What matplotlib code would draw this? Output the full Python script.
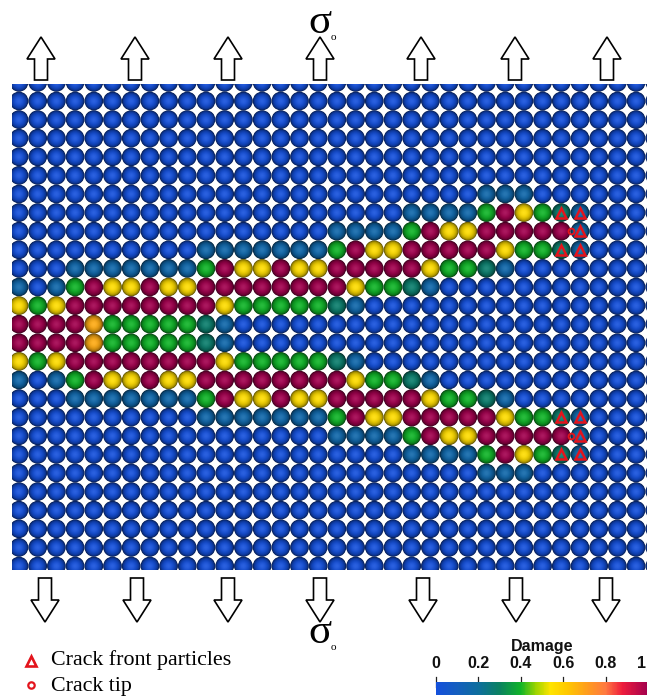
import numpy as np
import matplotlib
matplotlib.use("Agg")
import matplotlib.pyplot as plt
from matplotlib.colors import LinearSegmentedColormap, Normalize
from matplotlib.patches import Polygon
from matplotlib.cm import ScalarMappable

# ---------------------------------------------------------------------------
# Particle damage field (row 0 = top).  Each character is one particle:
#   '.' intact, 't' slight, 'q' low, 'g' moderate, 'y' high, 'o' higher, 'c' broken
# ---------------------------------------------------------------------------
damage_rows = [
    "...................................",
    "...................................",
    "...................................",
    "...................................",
    "...................................",
    "...................................",
    ".........................ttt.......",
    ".....................ttttgcygqt....",
    ".................ttttgcyyccccct....",
    "..........tttttttgcyycccccyggqt....",
    "...tttttttgcyycyycccccyggqt........",
    "t.tgcyycyyccccccccyggqt............",
    "ygyccccccccygggggqt................",
    "ccccogggggqt.......................",
    "ccccogggggqt.......................",
    "ygyccccccccygggggqt................",
    "t.tgcyycyyccccccccyggqt............",
    "...tttttttgcyycyycccccyggqt........",
    "..........tttttttgcyycccccyggqt....",
    ".................ttttgcyyccccct....",
    ".....................ttttgcygqt....",
    ".........................ttt.......",
    "...................................",
    "...................................",
    "...................................",
    "...................................",
    "...................................",
]
damage_levels = {".": 0.0, "t": 0.16, "q": 0.28, "g": 0.40,
                 "y": 0.56, "o": 0.68, "c": 1.0}

# Crack front particles and crack tips (column, row)
crack_front_cols = [29, 30, 30, 29, 30, 29, 30, 30, 29, 30]
crack_front_rows = [7, 7, 8, 9, 9, 18, 18, 19, 20, 20]
crack_tip_cols = [29.5, 29.5]
crack_tip_rows = [8, 19]

colorbar_ticks = [0.0, 0.2, 0.4, 0.6, 0.8, 1.0]
colorbar_tick_labels = ["0", "0.2", "0.4", "0.6", "0.8", "1"]

legend_labels = ["Crack front particles", "Crack tip"]
stress_label = "σ"
stress_sub = "o"
colorbar_title = "Damage"

# ---------------------------------------------------------------------------
# Damage colour scale
# ---------------------------------------------------------------------------
cmap_nodes = [
    (0.00, "#1450dc"),
    (0.10, "#145fbe"),
    (0.20, "#0d6e9c"),
    (0.30, "#0b8260"),
    (0.40, "#10b428"),
    (0.47, "#9cd400"),
    (0.54, "#ffe400"),
    (0.62, "#ffc800"),
    (0.72, "#ff9a20"),
    (0.80, "#ff7a40"),
    (0.88, "#ee1c3c"),
    (1.00, "#a2004e"),
]
damage_cmap = LinearSegmentedColormap.from_list("damage", cmap_nodes)
norm = Normalize(0.0, 1.0)

W, H = 647, 700
fig = plt.figure(figsize=(W / 100, H / 100), dpi=100)

# ---------------------------------------------------------------------------
# Particle panel
# ---------------------------------------------------------------------------
px_left, px_right, px_top, px_bot = 12, 647, 84, 570
col0_px, dx_px = 19.0, 18.7
row0_px, dy_px = 82.4, 18.6

ax = fig.add_axes([px_left / W, (H - px_bot) / H,
                   (px_right - px_left) / W, (px_bot - px_top) / H])
ax.set_xlim((px_left - col0_px) / dx_px, (px_right - col0_px) / dx_px)
ax.set_ylim((px_bot - row0_px) / dy_px, (px_top - row0_px) / dy_px)
ax.set_facecolor("white")
ax.axis("off")

n_rows = len(damage_rows)
n_cols = len(damage_rows[0])
cols, rows = np.meshgrid(np.arange(n_cols), np.arange(n_rows))
dmg = np.array([[damage_levels[ch] for ch in row] for row in damage_rows])
base = damage_cmap(norm(dmg.ravel()))[:, :3]

# shaded spheres: concentric discs getting brighter towards the centre
diam_pt = 18.65 * 72 / 100
n_layers = 18
for k in range(n_layers):
    r = 1.0 - k / n_layers
    r_mid = max(r - 0.5 / n_layers, 0.0)
    z = np.sqrt(max(1.0 - r_mid ** 2, 0.0))
    bright = 0.04 + 0.96 * z ** 0.75
    spec = 0.10 * z ** 10
    col = np.clip(base * bright + (1 - base * bright) * spec, 0, 1)
    ax.scatter(cols.ravel(), rows.ravel(), s=(diam_pt * r) ** 2, c=col,
               marker="o", linewidths=0, zorder=2 + k * 0.01)

red = "#e3141c"
ax.plot(crack_front_cols, crack_front_rows, ls="none", marker="^", ms=7.6,
        mfc="none", mec=red, mew=1.8, zorder=5)
ax.plot(crack_tip_cols, crack_tip_rows, ls="none", marker="o", ms=4.2,
        mfc="none", mec=red, mew=1.4, zorder=5)

# ---------------------------------------------------------------------------
# Overlay: loading arrows, stress labels, legend
# ---------------------------------------------------------------------------
ov = fig.add_axes([0, 0, 1, 1])
ov.set_xlim(0, W)
ov.set_ylim(H, 0)
ov.axis("off")


def block_arrow(cx, y_tip, y_head, y_end, hw=14, sw=6.5):
    pts = [(cx, y_tip), (cx + hw, y_head), (cx + sw, y_head), (cx + sw, y_end),
           (cx - sw, y_end), (cx - sw, y_head), (cx - hw, y_head)]
    ov.add_patch(Polygon(pts, closed=True, facecolor="white",
                         edgecolor="black", lw=1.2, joinstyle="miter"))


for cx in [41, 135, 228, 320, 421, 515, 607]:
    block_arrow(cx, 37, 59, 80)
for cx in [45, 137, 228, 320, 423, 516, 606]:
    block_arrow(cx, 622, 600, 578)

serif = ["Liberation Serif", "DejaVu Serif"]
for sy in (23, 633):
    ov.text(320, sy, stress_label, fontsize=31, family=serif,
            ha="center", va="center")
    ov.text(333, sy + 14, stress_sub, fontsize=8, family=serif,
            ha="center", va="center")

ov.plot([31], [661], ls="none", marker="^", ms=7.2, mfc="none", mec=red,
        mew=1.9)
ov.plot([30.5], [685], ls="none", marker="o", ms=4.6, mfc="none", mec=red,
        mew=1.6)
ov.text(51, 660, legend_labels[0], fontsize=15.8, family=serif,
        ha="left", va="center")
ov.text(51, 686, legend_labels[1], fontsize=15.8, family=serif,
        ha="left", va="center")

# ---------------------------------------------------------------------------
# Colour bar
# ---------------------------------------------------------------------------
cb_x0, cb_x1, cb_top, cb_bot = 436, 648, 681.5, 695
cax = fig.add_axes([cb_x0 / W, (H - cb_bot) / H,
                    (cb_x1 - cb_x0) / W, (cb_bot - cb_top) / H])
cb = fig.colorbar(ScalarMappable(norm=norm, cmap=damage_cmap), cax=cax,
                  orientation="horizontal")
cb.outline.set_visible(False)
cb.set_ticks([])

sans = ["Liberation Sans", "DejaVu Sans"]
for v, lab in zip(colorbar_ticks, colorbar_tick_labels):
    x = cb_x0 + v * (cb_x1 - cb_x0)
    ov.plot([x, x], [676.5, 687], color="#222222", lw=0.9, zorder=6)
    lx = min(x, W - 6)
    ov.text(lx, 664, lab, fontsize=11.5, family=sans, weight="bold",
            ha="center", va="center", color="#111111")
ov.text((cb_x0 + cb_x1) / 2, 646, colorbar_title, fontsize=11.5, family=sans,
        weight="bold", ha="center", va="center", color="#111111")

fig.savefig("out.png", dpi=100)
